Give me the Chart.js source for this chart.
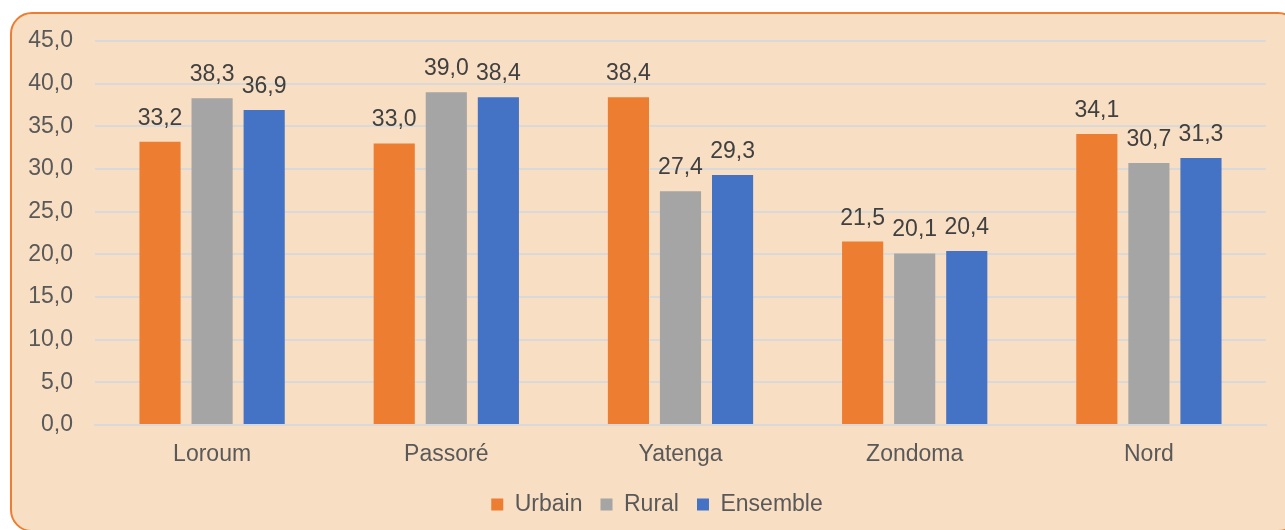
<!DOCTYPE html>
<html>
<head>
<meta charset="utf-8">
<script src="https://cdn.jsdelivr.net/npm/chart.js@4"></script>
<style>
    html, body { margin: 0; padding: 0; background: #ffffff; overflow: hidden; }
    .frame {
        position: absolute; left: 10px; top: 12px;
        width: 1290px; height: 520px;
        background: #F8DEC3;
        border: 2px solid #ED7D31;
        border-radius: 22px;
        box-sizing: border-box;
    }
    #chart { position: absolute; left: 0; top: 0; }
</style>
</head>
<body>
<div class="frame"></div>
<canvas id="chart" width="1285" height="530"></canvas>
<script>
const categories = ['Loroum', 'Passoré', 'Yatenga', 'Zondoma', 'Nord'];
const urbain = [33.2, 33.0, 38.4, 21.5, 34.1];
const rural = [38.3, 39.0, 27.4, 20.1, 30.7];
const ensemble = [36.9, 38.4, 29.3, 20.4, 31.3];
const seriesNames = ['Urbain', 'Rural', 'Ensemble'];
const seriesColors = ['#ED7D31', '#A5A5A5', '#4472C4'];

const fontFamily = "'Liberation Sans', Arial, sans-serif";
const fontSize = 23;

function fmt(v) {
    return v.toFixed(1).replace('.', ',');
}

// labels above each bar
const barLabels = {
    id: 'barLabels',
    afterDatasetsDraw(chart) {
        const ctx = chart.ctx;
        ctx.save();
        ctx.font = fontSize + 'px ' + fontFamily;
        ctx.fillStyle = '#404040';
        ctx.textAlign = 'center';
        ctx.textBaseline = 'alphabetic';
        chart.data.datasets.forEach((ds, i) => {
            chart.getDatasetMeta(i).data.forEach((bar, j) => {
                ctx.fillText(fmt(ds.data[j]), bar.x, bar.y - 17);
            });
        });
        ctx.restore();
    }
};

// the legend sits a bit right of the page centre in the original
const legendShift = {
    id: 'legendShift',
    afterLayout(chart) {
        chart.legend.left += 24;
        chart.legend.right += 24;
    }
};

const datasets = [urbain, rural, ensemble].map((vals, i) => ({
    label: seriesNames[i],
    data: vals,
    backgroundColor: seriesColors[i],
    borderWidth: 0,
    categoryPercentage: 0.667,
    barPercentage: 0.79
}));

new Chart(document.getElementById('chart'), {
    type: 'bar',
    data: { labels: categories, datasets },
    options: {
        responsive: false,
        animation: false,
        layout: { padding: { left: 0, right: 19, top: 41, bottom: 4 } },
        plugins: {
            legend: {
                position: 'bottom',
                labels: {
                    boxWidth: 12,
                    boxHeight: 12,
                    padding: 18,
                    color: '#595959',
                    font: { family: fontFamily, size: fontSize }
                }
            },
            tooltip: { enabled: false }
        },
        scales: {
            x: {
                afterFit(scale) { scale.height = 50; },
                grid: { display: false, drawTicks: false },
                border: { display: true, color: '#D9D9D9', width: 2 },
                ticks: {
                    color: '#595959',
                    padding: 16,
                    font: { family: fontFamily, size: fontSize }
                }
            },
            y: {
                min: 0,
                max: 45,
                afterFit(scale) { scale.width = 95; },
                border: { display: false },
                grid: { color: '#D9D9D9', lineWidth: 2, drawTicks: false },
                ticks: {
                    stepSize: 5,
                    padding: 22,
                    color: '#595959',
                    font: { family: fontFamily, size: fontSize },
                    callback: v => fmt(v)
                }
            }
        }
    },
    plugins: [barLabels, legendShift]
});
</script>
</body>
</html>
